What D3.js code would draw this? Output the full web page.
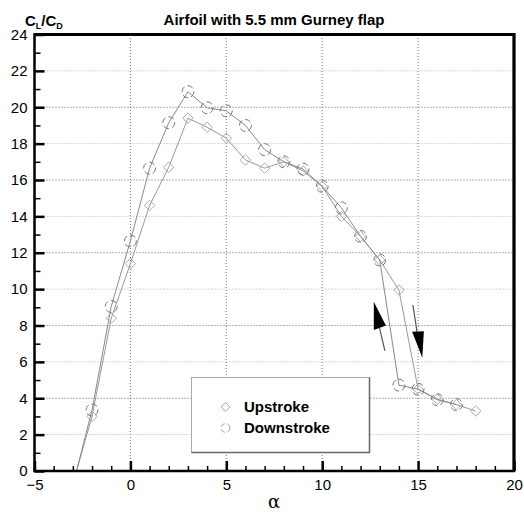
<!DOCTYPE html>
<html>
<head>
<meta charset="utf-8">
<script src="https://cdn.jsdelivr.net/npm/d3@7"></script>
<style>
  body { margin: 0; background: #fff; }
  svg { display: block; font-family: "Liberation Sans", Arial, sans-serif; }
</style>
</head>
<body>
<div id="chart"></div>
<script>
// angle of attack (deg)
const alphaUp   = [-3, -2, -1, 0, 1, 2, 3, 4, 5, 6, 7, 8, 9, 10, 11, 12, 13, 14, 15, 16, 17, 18];
const clcdUp    = [-0.7, 3.0, 8.4, 11.4, 14.6, 16.7, 19.4, 18.9, 18.3, 17.1, 16.65, 17.0, 16.5, 15.65, 14.0, 12.9, 11.6, 9.95, 4.5, 3.95, 3.65, 3.3];
const alphaDown = [-3, -2, -1, 0, 1, 2, 3, 4, 5, 6, 7, 8, 9, 10, 11, 12, 13, 14, 15, 16, 17];
const clcdDown  = [-0.8, 3.35, 9.05, 12.65, 16.65, 19.15, 20.85, 19.97, 19.8, 19.0, 17.67, 17.0, 16.6, 15.65, 14.47, 12.9, 11.6, 4.72, 4.5, 3.92, 3.65];
const xTicks = [-5, 0, 5, 10, 15, 20];
const yTicks = [0, 2, 4, 6, 8, 10, 12, 14, 16, 18, 20, 22, 24];
const legendLabels = ["Upstroke", "Downstroke"];
// hysteresis arrows, in (alpha, CL/CD)
const arrowUp   = { tail: [[13.27, 6.6], [12.98, 7.9]], head: [[12.69, 9.3], [12.69, 7.75], [13.32, 8.0]] };
const arrowDown = { tail: [[14.73, 9.12], [14.95, 7.6]], head: [[14.69, 7.65], [15.30, 7.69], [15.22, 6.23]] };

const width = 524, height = 513;
const x = d3.scaleLinear().domain([-5, 20]).range([34.5, 514]);
const y = d3.scaleLinear().domain([0, 24]).range([471, 34.5]);

const svg = d3.select("#chart").append("svg")
    .attr("width", width)
    .attr("height", height);

svg.append("defs").append("clipPath").attr("id", "plotclip")
  .append("rect")
    .attr("x", x(-5)).attr("y", y(24))
    .attr("width", x(20) - x(-5)).attr("height", y(0) - y(24));

// grid
svg.append("g").selectAll("line").data([0, 5, 10, 15]).enter().append("line")
    .attr("x1", d => x(d)).attr("x2", d => x(d))
    .attr("y1", y(0)).attr("y2", y(24))
    .attr("stroke", "#777").attr("stroke-width", 1).attr("stroke-dasharray", "1,2");
svg.append("g").selectAll("line").data(d3.range(2, 24, 2)).enter().append("line")
    .attr("x1", x(-5)).attr("x2", x(20))
    .attr("y1", d => y(d)).attr("y2", d => y(d))
    .attr("stroke", (d, i) => i % 2 ? "#666" : "#aaa").attr("stroke-width", 1).attr("stroke-dasharray", "1,2");

// data lines
const line = d3.line().x(d => x(d[0])).y(d => y(d[1]));
const upPts = alphaUp.map((a, i) => [a, clcdUp[i]]);
const downPts = alphaDown.map((a, i) => [a, clcdDown[i]]);
const plot = svg.append("g").attr("clip-path", "url(#plotclip)");
plot.append("path").datum(upPts).attr("d", line)
    .attr("fill", "none").attr("stroke", "#999").attr("stroke-width", 1);
plot.append("path").datum(downPts).attr("d", line)
    .attr("fill", "none").attr("stroke", "#888").attr("stroke-width", 1);

// markers
const diamond = d3.symbol().type(d3.symbolDiamond2).size(70);
plot.selectAll(".up").data(upPts.filter(d => d[1] > 0)).enter().append("path")
    .attr("class", "up")
    .attr("d", diamond)
    .attr("transform", d => `translate(${x(d[0])},${y(d[1])})`)
    .attr("fill", "none").attr("stroke", "#aaa").attr("stroke-width", 1);
plot.selectAll(".down").data(downPts.filter(d => d[1] > 0)).enter().append("circle")
    .attr("class", "down")
    .attr("cx", d => x(d[0])).attr("cy", d => y(d[1]))
    .attr("r", 6)
    .attr("fill", "none").attr("stroke", "#777").attr("stroke-width", 1)
    .attr("stroke-dasharray", "6,3");

// arrows
[arrowUp, arrowDown].forEach(a => {
  svg.append("path").attr("d", line(a.tail))
      .attr("fill", "none").attr("stroke", "#555").attr("stroke-width", 1.2);
  svg.append("path").attr("d", line(a.head) + "Z").attr("fill", "#000");
});

// axes
const xAxis = svg.append("g").attr("transform", `translate(0,${y(0)})`);
xAxis.call(d3.axisBottom(x).tickValues(d3.range(-5, 21).filter(d => d % 5)).tickSize(-5).tickFormat(""));
xAxis.call(g => g.selectAll(".tick line").attr("stroke-width", 1.5));
const xMaj = svg.append("g").attr("transform", `translate(0,${y(0)})`)
    .call(d3.axisBottom(x).tickValues(xTicks).tickSize(-10).tickPadding(8));
xMaj.selectAll(".tick line").attr("stroke-width", 2.5);

const yAxis = svg.append("g").attr("transform", `translate(${x(-5)},0)`);
yAxis.call(d3.axisLeft(y).tickValues(d3.range(1, 24, 2)).tickSize(-6).tickFormat(""));
yAxis.call(g => g.selectAll(".tick line").attr("stroke-width", 1.5));
const yMaj = svg.append("g").attr("transform", `translate(${x(-5)},0)`)
    .call(d3.axisLeft(y).tickValues(yTicks).tickSize(-10).tickPadding(7));
yMaj.selectAll(".tick line").attr("stroke-width", 2.5);

svg.selectAll(".domain").remove();
svg.selectAll(".tick text").attr("font-size", 15).attr("fill", "#000")
    .attr("font-family", "'Liberation Sans', Arial, sans-serif");

// frame
svg.append("path")
    .attr("d", `M${x(-5)},${y(0)}H${x(20)}V${y(24)}H${x(-5)}Z`)
    .attr("fill", "none").attr("stroke", "#000").attr("stroke-width", 2.5);
svg.append("path")
    .attr("d", `M${x(-5)},${y(24)}H${x(20)}V${y(0)}`)
    .attr("fill", "none").attr("stroke", "#000").attr("stroke-width", 3);

// titles
svg.append("text")
    .attr("x", 274).attr("y", 25)
    .attr("text-anchor", "middle")
    .attr("font-size", 15).attr("font-weight", "bold")
    .text("Airfoil with 5.5 mm Gurney flap");

const yl = svg.append("text").attr("x", 25).attr("y", 26)
    .attr("font-size", 15).attr("font-weight", "bold");
yl.append("tspan").text("C");
yl.append("tspan").attr("font-size", 9).attr("dy", 3).text("L");
yl.append("tspan").attr("dy", -3).text("/C");
yl.append("tspan").attr("font-size", 9).attr("dy", 3).text("D");

svg.append("text")
    .attr("x", 274).attr("y", 508)
    .attr("text-anchor", "middle")
    .attr("font-size", 18)
    .attr("font-family", "'DejaVu Serif', 'Liberation Serif', serif")
    .text("α");

// legend
const lg = svg.append("g");
lg.append("rect")
    .attr("x", 191.5).attr("y", 377.5).attr("width", 178).attr("height", 75)
    .attr("fill", "#fff").attr("stroke", "#aaa").attr("stroke-width", 1);
lg.append("path")
    .attr("d", "M369.5,377.5V452.5H191.5")
    .attr("fill", "none").attr("stroke", "#666").attr("stroke-width", 1.5);
lg.append("path")
    .attr("d", d3.symbol().type(d3.symbolDiamond2).size(50))
    .attr("transform", "translate(225.5,407)")
    .attr("fill", "none").attr("stroke", "#aaa");
lg.append("circle")
    .attr("cx", 225.5).attr("cy", 428).attr("r", 4.5)
    .attr("fill", "none").attr("stroke", "#aaa").attr("stroke-dasharray", "5,2.5");
lg.selectAll(".lt").data(legendLabels).enter().append("text")
    .attr("class", "lt")
    .attr("x", 244).attr("y", (d, i) => 412 + i * 21)
    .attr("font-size", 15).attr("font-weight", "bold")
    .text(d => d);
</script>
</body>
</html>
